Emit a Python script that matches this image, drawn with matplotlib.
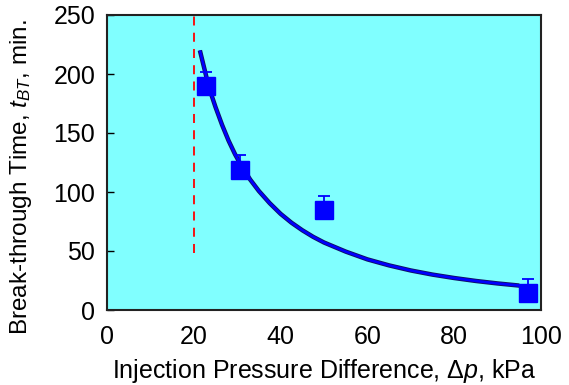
import matplotlib
matplotlib.use("Agg")
import matplotlib.pyplot as plt

plt.rcParams['font.family'] = ['Liberation Sans', 'DejaVu Sans']
plt.rcParams['mathtext.fontset'] = 'custom'
plt.rcParams['mathtext.rm'] = 'Liberation Sans'
plt.rcParams['mathtext.it'] = 'Liberation Sans:italic'

# measured data
pressure = [22.8, 30.6, 50.0, 97.0]
time = [190, 119, 85, 14]
err_up = [12, 12, 12, 12]

# fitted curve
curve_x = [21.4, 22, 23, 24, 25, 26.5, 28, 29.5, 31, 33, 35, 37.5, 40, 42.5, 45, 47.5,
           50, 55, 60, 65, 70, 75, 80, 85, 90, 95]
curve_y = [220, 211, 196, 183, 172, 157, 143.6, 132, 122, 110.5, 100.8, 90.5, 81.5, 74,
           67.6, 62, 57.2, 49.5, 42.9, 37.8, 33.5, 30, 27.1, 24.6, 22.5, 20.7]

# threshold
threshold_x = 20
threshold_y = [48, 250]

fig = plt.figure(figsize=(5.69, 3.85), dpi=100)
ax = fig.add_axes([107/569, 1 - 310/385, (541-107)/569, (310-15)/385])
ax.set_facecolor('#80FFFF')

ax.plot([threshold_x, threshold_x], threshold_y, color='red', lw=1.3, ls=(0, (5, 4)))
ax.plot(curve_x, curve_y, color='#101060', lw=3.2, solid_capstyle='butt', solid_joinstyle='round')
ax.plot(curve_x, curve_y, color='#0000ff', lw=1.9, solid_capstyle='butt', solid_joinstyle='round')
ax.errorbar(pressure, time, yerr=[[0]*4, err_up], fmt='none', ecolor='blue',
            elinewidth=1.3, capsize=4, capthick=1.3)
ax.plot(pressure, time, ls='none', marker='s', ms=12.5, color='blue', mec='blue')

ax.set_xlim(0, 100)
ax.set_ylim(0, 250)
ax.set_xticks([0, 20, 40, 60, 80, 100])
ax.set_yticks([0, 50, 100, 150, 200, 250])
ax.tick_params(axis='y', direction='in', length=5, width=1, labelsize=18, pad=8.5)
ax.tick_params(axis='x', direction='in', length=0, labelsize=18, pad=11)
for s in ax.spines.values():
    s.set_linewidth(1.5)
    s.set_color('#222222')

ax.set_xlabel(r'Injection Pressure Difference, $\Delta\mathit{p}$, kPa', fontsize=18)
ax.set_ylabel(r'Break-through Time, $\mathit{t}_{BT}$, min.', fontsize=17.5)
ax.xaxis.set_label_coords(0.5, (310 - 357) / 295)
ax.yaxis.set_label_coords((34 - 107) / 434, 0.45)

fig.savefig('out.png', dpi=100)
